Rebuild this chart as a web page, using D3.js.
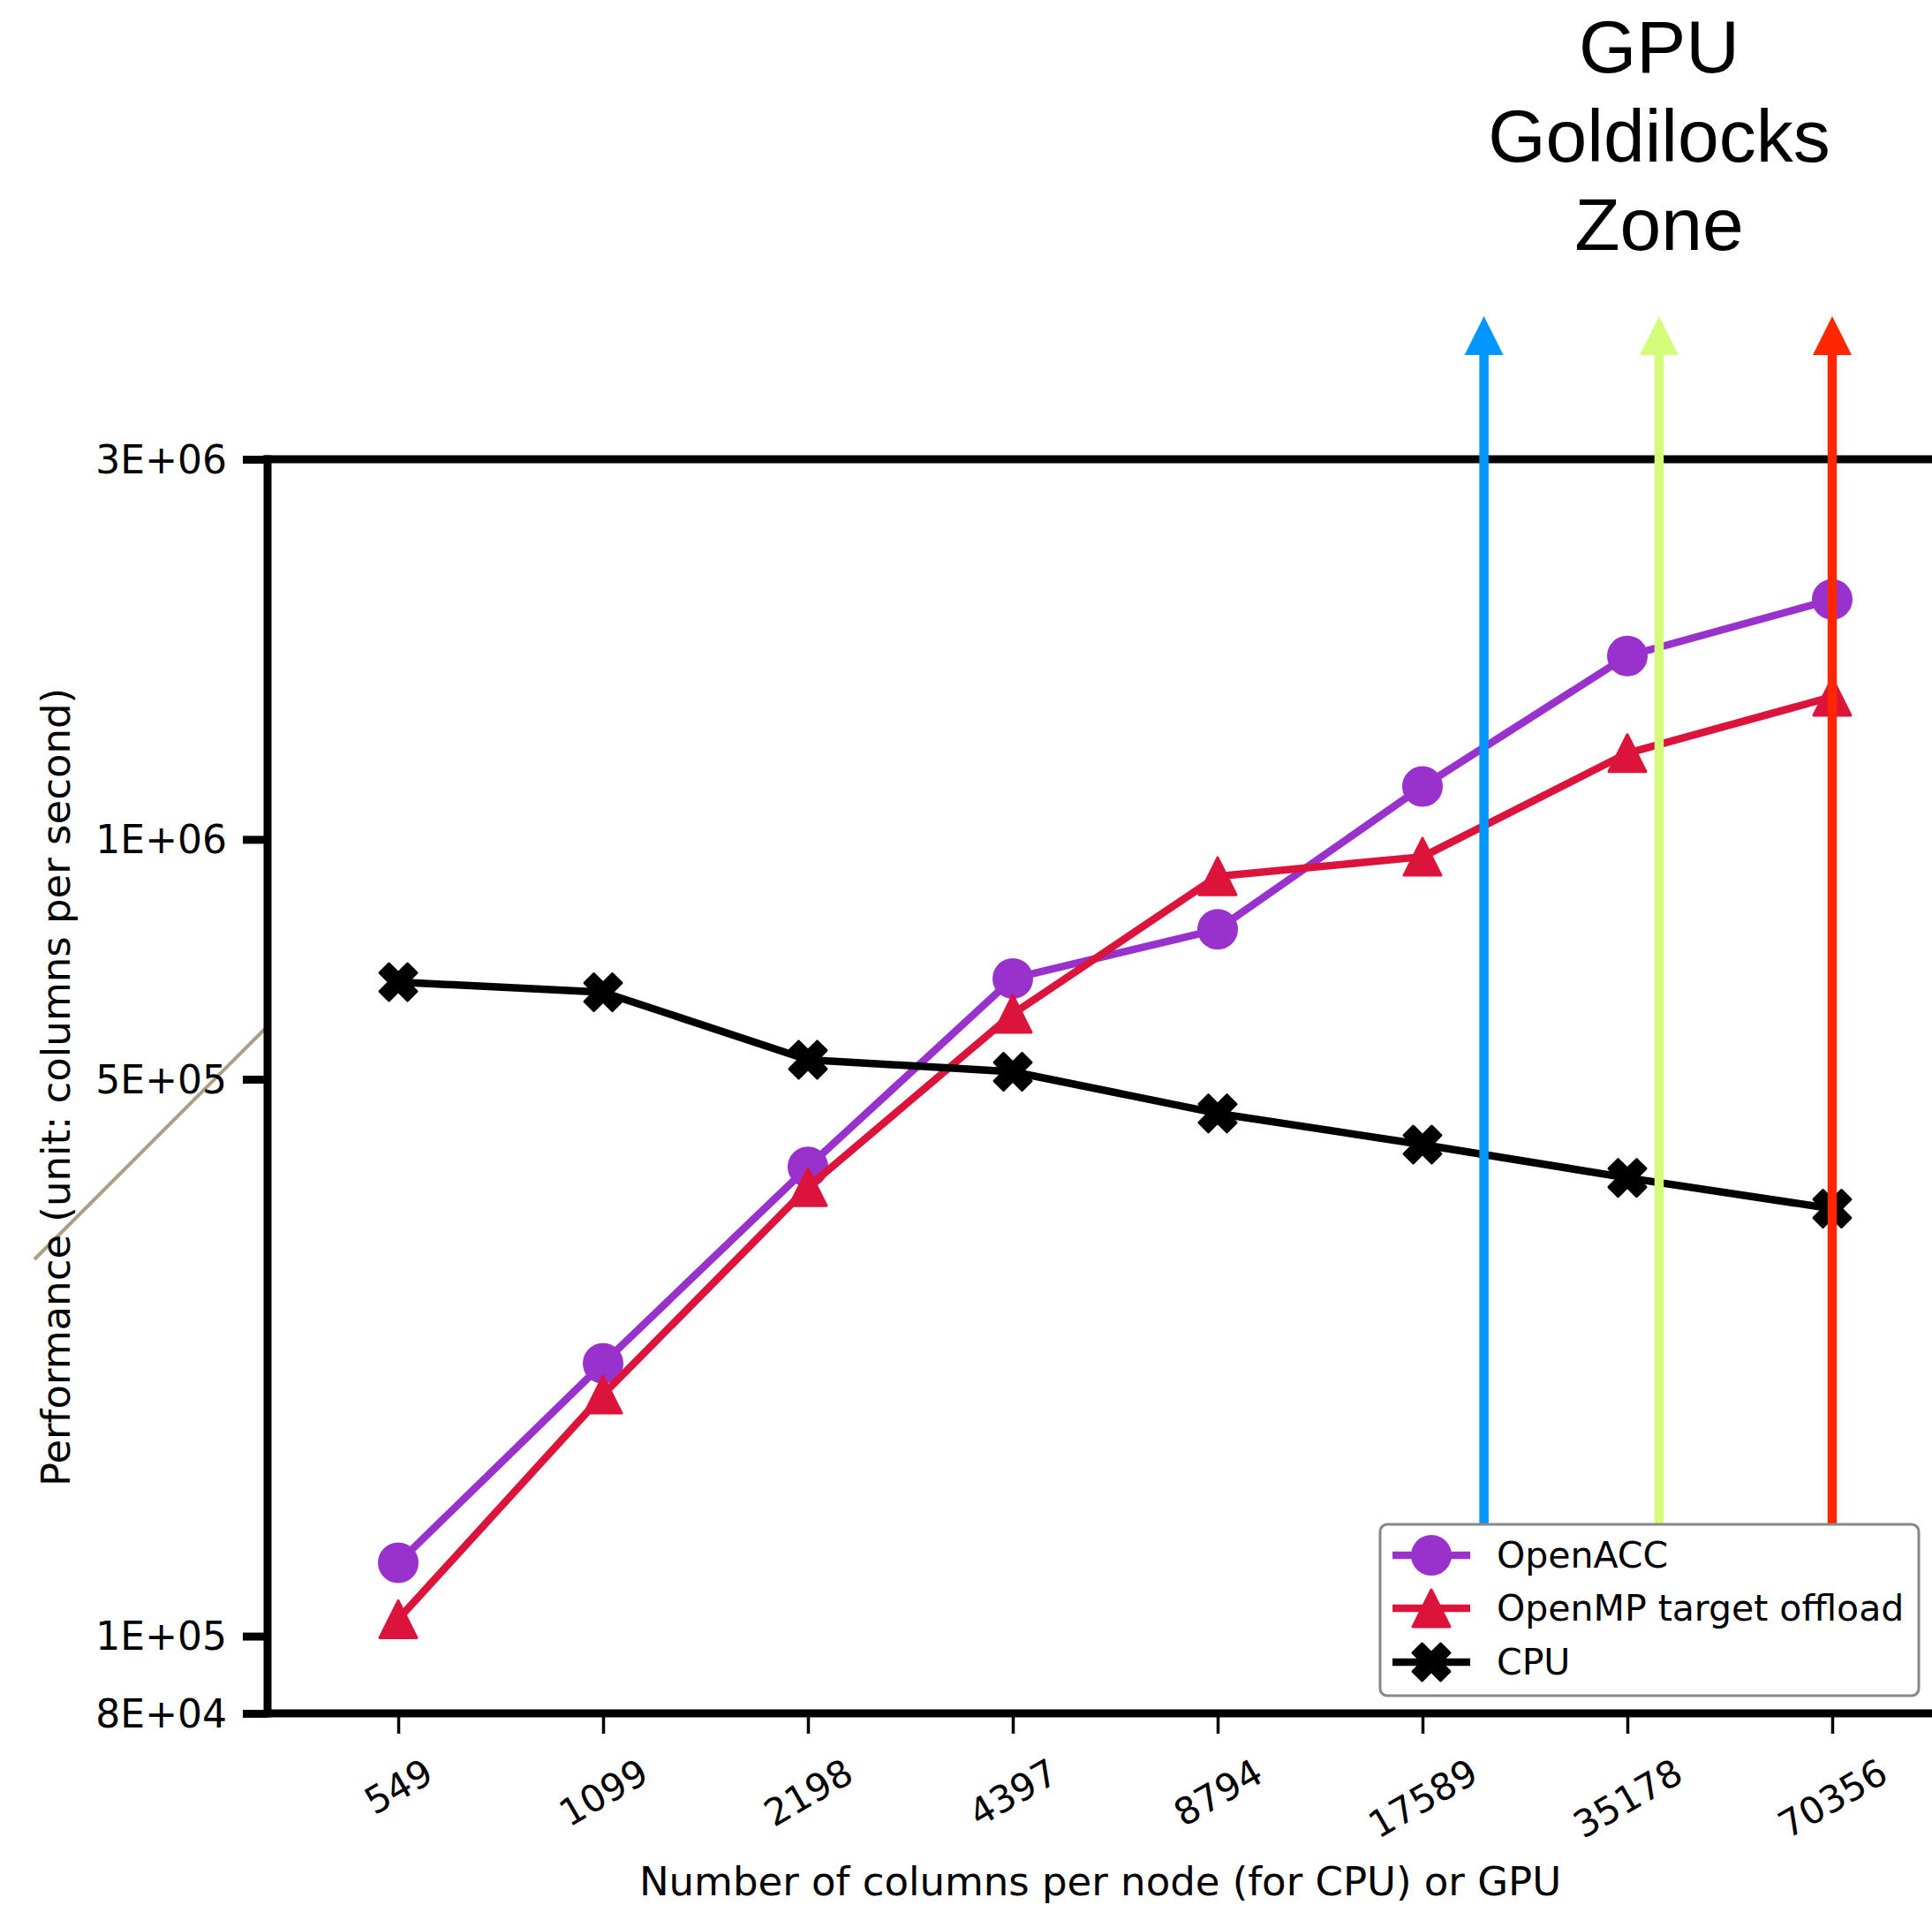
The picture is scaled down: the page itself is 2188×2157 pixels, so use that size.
<!DOCTYPE html>
<html>
<head>
<meta charset="utf-8">
<script src="https://cdn.jsdelivr.net/npm/d3@7"></script>
<style>
  body { margin: 0; background: #fff; }
  svg { display: block; }
</style>
</head>
<body>
<div id="chart"></div>
<script>
// data
const categories = ['549', '1099', '2198', '4397', '8794', '17589', '35178', '70356'];
const openacc = [123600, 220000, 388000, 669000, 771000, 1165000, 1699000, 2000000];
const openmp = [105000, 201000, 366000, 604000, 899000, 951000, 1283000, 1510000];
const cpu = [662000, 643000, 529000, 511000, 453000, 414000, 376000, 344000];
const yTicks = [8e4, 1e5, 5e5, 1e6, 3e6];
const yTickLabels = ['8E+04', '1E+05', '5E+05', '1E+06', '3E+06'];
const seriesNames = ['OpenACC', 'OpenMP target offload', 'CPU'];
const seriesColors = ['#9932cc', '#dc143c', '#000000'];
// arrows: which tick they sit by, and how far past it (in steps)
const arrowAnchors = ['17589', '35178', '70356'];
const arrowOffsets = [0.3, 0.155, 0];
const arrowColors = ['#0096ff', '#d4fb79', '#ff2600'];
const zoneLines = ['GPU', 'Goldilocks', 'Zone'];

const W = 2188, H = 2157;
const plot = {left: 303, right: 2191, top: 520, bottom: 1940};
const lineW = 8.5;

const svg = d3.select('#chart')
  .append('svg')
  .attr('width', W)
  .attr('height', H)
  .style('background', 'white');

const x = d3.scalePoint()
  .domain(categories)
  .range([plot.left, 2223])
  .padding(0.638);

const y = d3.scaleLog()
  .domain([8e4, 3e6])
  .range([plot.bottom, plot.top]);

// stray connector line on the left
svg.append('line')
  .attr('x1', 39).attr('y1', 1426)
  .attr('x2', 305).attr('y2', 1160)
  .attr('stroke', '#a99f84')
  .attr('stroke-width', 4);

// matplotlib-like triangle (centred on its box)
const triUp = {
  draw(ctx, size) {
    const r = Math.sqrt(size) / 2;
    ctx.moveTo(0, -r);
    ctx.lineTo(r, r);
    ctx.lineTo(-r, r);
    ctx.closePath();
  }
};
const markers = [
  {type: d3.symbolCircle, size: Math.PI * 21.5 * 21.5, rot: 0},
  {type: triUp, size: 42 * 42, rot: 0},
  {type: d3.symbolCross, size: 1100, rot: 45}
];

// lines + markers
const allSeries = [openacc, openmp, cpu];
const line = d3.line()
  .x((d, i) => x(categories[i]))
  .y(d => y(d));

allSeries.forEach((vals, s) => {
  svg.append('path')
    .datum(vals)
    .attr('d', line)
    .attr('fill', 'none')
    .attr('stroke', seriesColors[s])
    .attr('stroke-width', lineW)
    .attr('stroke-linejoin', 'round');

  svg.selectAll('.m' + s)
    .data(vals)
    .enter()
    .append('path')
      .attr('class', 'm' + s)
      .attr('d', d3.symbol(markers[s].type, markers[s].size))
      .attr('transform', (d, i) => `translate(${x(categories[i])},${y(d)}) rotate(${markers[s].rot})`)
      .attr('fill', seriesColors[s])
      .attr('stroke', seriesColors[s])
      .attr('stroke-width', 3)
      .attr('stroke-linejoin', 'round');
});

// y axis
const yAxis = d3.axisLeft(y)
  .tickValues(yTicks)
  .tickFormat((d, i) => yTickLabels[i])
  .tickSize(28)
  .tickSizeOuter(0)
  .tickPadding(18);

const gy = svg.append('g')
  .attr('transform', `translate(${plot.left},0)`)
  .call(yAxis);
gy.select('.domain').remove();
gy.selectAll('.tick line').attr('stroke-width', 9);
gy.selectAll('.tick text')
  .attr('font-family', 'DejaVu Sans')
  .attr('font-size', 44)
  .attr('fill', '#000')
  .attr('dy', '0.35em');

// x axis
const xAxis = d3.axisBottom(x)
  .tickSize(23)
  .tickSizeOuter(0);

const gx = svg.append('g')
  .attr('transform', `translate(0,${plot.bottom})`)
  .call(xAxis);
gx.select('.domain').remove();
gx.selectAll('.tick line').attr('stroke-width', 3.5);
gx.selectAll('.tick text')
  .attr('font-family', 'DejaVu Sans')
  .attr('font-size', 42)
  .attr('fill', '#000')
  .attr('y', null)
  .attr('dy', null)
  .attr('text-anchor', 'middle')
  .attr('dominant-baseline', 'central')
  .attr('transform', function() {
    const w = this.getComputedTextLength();
    const a = Math.PI / 6;
    const bh = w * Math.sin(a) + 35 * Math.cos(a);
    return `translate(0,${48 + bh / 2}) rotate(-30)`;
  });

// spines
const spines = [
  [plot.left, plot.top, plot.left, plot.bottom],
  [plot.left, plot.bottom, plot.right, plot.bottom],
  [plot.left, plot.top, plot.right, plot.top]
];
svg.selectAll('.spine')
  .data(spines)
  .enter()
  .append('line')
    .attr('class', 'spine')
    .attr('x1', d => d[0]).attr('y1', d => d[1])
    .attr('x2', d => d[2]).attr('y2', d => d[3])
    .attr('stroke', '#000')
    .attr('stroke-width', 9)
    .attr('stroke-linecap', 'square');

// axis titles
svg.append('text')
  .attr('x', 1246)
  .attr('y', 2146)
  .attr('text-anchor', 'middle')
  .attr('font-family', 'DejaVu Sans')
  .attr('font-size', 45)
  .text('Number of columns per node (for CPU) or GPU');

svg.append('text')
  .attr('transform', 'translate(63,1231) rotate(-90)')
  .attr('text-anchor', 'middle')
  .attr('dominant-baseline', 'central')
  .attr('font-family', 'DejaVu Sans')
  .attr('font-size', 45)
  .text('Performance (unit: columns per second)');

// legend box position
const leg = {x: 1563, y: 1726, w: 610, h: 194};

// arrows
const step = x.step();
arrowAnchors.forEach((c, i) => {
  const ax = x(c) + arrowOffsets[i] * step;
  svg.append('line')
    .attr('x1', ax).attr('x2', ax)
    .attr('y1', leg.y).attr('y2', 398)
    .attr('stroke', arrowColors[i])
    .attr('stroke-width', 10.5);
  svg.append('path')
    .attr('d', `M${ax},358 L${ax + 22},402 L${ax - 22},402 Z`)
    .attr('fill', arrowColors[i]);
});

// zone label
const zoneX = x(arrowAnchors[1]) + arrowOffsets[1] * step;
svg.selectAll('.zone')
  .data(zoneLines)
  .enter()
  .append('text')
    .attr('class', 'zone')
    .attr('x', zoneX)
    .attr('y', (d, i) => 82 + i * 100.5)
    .attr('text-anchor', 'middle')
    .attr('font-family', 'Liberation Sans')
    .attr('font-size', 84)
    .text(d => d);

// legend
const lg = svg.append('g');
lg.append('rect')
  .attr('x', leg.x).attr('y', leg.y)
  .attr('width', leg.w).attr('height', leg.h)
  .attr('rx', 8)
  .attr('fill', 'white')
  .attr('stroke', '#888')
  .attr('stroke-width', 3);

const legRows = [1761, 1821, 1882];
seriesNames.forEach((name, s) => {
  const ly = legRows[s];
  lg.append('line')
    .attr('x1', 1577).attr('x2', 1665)
    .attr('y1', ly).attr('y2', ly)
    .attr('stroke', seriesColors[s])
    .attr('stroke-width', lineW);
  lg.append('path')
    .attr('d', d3.symbol(markers[s].type, markers[s].size))
    .attr('transform', `translate(1621,${ly}) rotate(${markers[s].rot})`)
    .attr('fill', seriesColors[s])
    .attr('stroke', seriesColors[s])
    .attr('stroke-width', 3)
    .attr('stroke-linejoin', 'round');
  lg.append('text')
    .attr('x', 1695)
    .attr('y', ly)
    .attr('dy', '0.35em')
    .attr('font-family', 'DejaVu Sans')
    .attr('font-size', 41)
    .text(name);
});
</script>
</body>
</html>
